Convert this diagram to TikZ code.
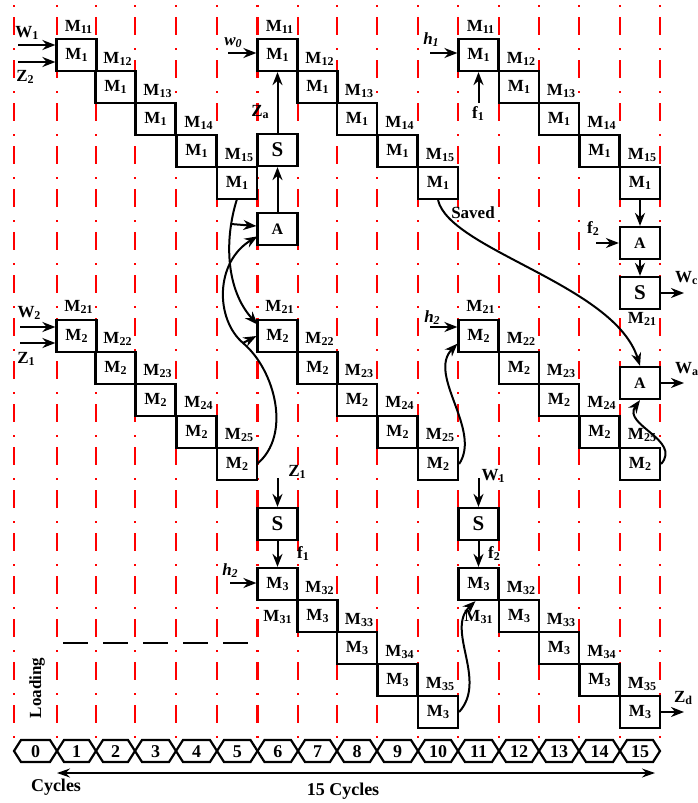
\documentclass[tikz,border=0pt]{standalone}
\usepackage{fontspec}
\setmainfont{Liberation Serif}
\usetikzlibrary{arrows.meta,calc}
\newcommand\sbs[1]{\raisebox{-2pt}{\fontsize{12}{12}\selectfont #1}}
\begin{document}
\begin{tikzpicture}[x=1pt,y=-1pt,
  redline/.style={draw=red, line width=2.4pt, dash pattern=on 2pt off 10pt on 18pt off 13pt},
  bx/.style={draw, line width=2.2pt, fill=white, minimum width=40pt, minimum height=32pt, inner sep=0pt, font=\fontsize{17}{17}\selectfont\bfseries},
  sbx/.style={bx, font=\fontsize{21}{21}\selectfont\bfseries},
  abx/.style={bx, font=\fontsize{16}{16}\selectfont\bfseries},
  lbl/.style={inner sep=0pt, font=\fontsize{17}{17}\selectfont\bfseries},
  arr/.style={line width=2pt, -{Stealth[length=13pt,width=10pt]}},
  curv/.style={line width=2pt, -{Stealth[length=13pt,width=10pt]}},
  hex/.style={draw, line width=2.2pt},
  num/.style={inner sep=0pt, font=\fontsize{18}{18}\selectfont\bfseries},
  blkdash/.style={line width=2pt, dash pattern=on 25pt off 15pt}
]
\useasboundingbox (0,0) rectangle (697,803);
\fill[white] (0,0) rectangle (697,803);

% red cycle lines
\foreach \x in {14,57,96,135,176,217,257.5,298,337,377,418,458,499,539,579,620,660}
  \draw[redline] (\x,5) -- (\x,738);

% cycle hexagons
\foreach \i/\a/\b in {0/14/57,1/57/96,2/96/135,3/135/176,4/176/217,5/217/257.5,6/257.5/298,7/298/337,8/337/377,9/377/418,10/418/458,11/458/499,12/499/539,13/539/579,14/579/620,15/620/660} {
  \draw[hex] (\a,751) -- (\a+7,740) -- (\b-7,740) -- (\b,751) -- (\b-7,762) -- (\a+7,762) -- cycle;
  \node[num] (cy\i) at ({(\a+\b)/2},752) {\i};
}

% curves (drawn before boxes)
\coordinate (br1) at (231,224);
\coordinate (k2) at (243,343);
\draw[curv] (237,199) .. controls (224,240) and (226,290) .. (257.5,324.5);
\draw[curv] (257,464) .. controls (292,435) and (275,370) .. (k2) .. controls (215,319) and (215,262) .. (257.5,236.3);

% ---- Row 1 ----
\foreach \k/\x in {1/76.5,2/115.5,3/155.5,4/196.5,5/237} {
  \pgfmathsetmacro\yy{55+32*(\k-1)}
  \node[bx] (r1a\k) at (\x,\yy) {M\sbs{1}};
  \node[lbl,anchor=base] (l1a\k) at (\x+2,\yy-24) {M\sbs{1\k}};
}
\foreach \k/\x in {1/277.5,2/317.5,3/357,4/397.5,5/438} {
  \pgfmathsetmacro\yy{55+32*(\k-1)}
  \node[bx] (r1b\k) at (\x,\yy) {M\sbs{1}};
  \node[lbl,anchor=base] (l1b\k) at (\x+2,\yy-24) {M\sbs{1\k}};
}
\foreach \k/\x in {1/478.5,2/519,3/559,4/599.5,5/640} {
  \pgfmathsetmacro\yy{55+32*(\k-1)}
  \node[bx] (r1c\k) at (\x,\yy) {M\sbs{1}};
  \node[lbl,anchor=base] (l1c\k) at (\x+2,\yy-24) {M\sbs{1\k}};
}
% ---- Row 2 ----
\foreach \k/\x in {1/76.5,2/115.5,3/155.5,4/196.5,5/237} {
  \pgfmathsetmacro\yy{336+32*(\k-1)}
  \node[bx] (r2a\k) at (\x,\yy) {M\sbs{2}};
  \node[lbl,anchor=base] (l2a\k) at (\x+2,\yy-25) {M\sbs{2\k}};
}
\foreach \k/\x in {1/277.5,2/317.5,3/357,4/397.5,5/438} {
  \pgfmathsetmacro\yy{336+32*(\k-1)}
  \node[bx] (r2b\k) at (\x,\yy) {M\sbs{2}};
  \node[lbl,anchor=base] (l2b\k) at (\x+2,\yy-25) {M\sbs{2\k}};
}
\foreach \k/\x in {1/478.5,2/519,3/559,4/599.5,5/640} {
  \pgfmathsetmacro\yy{336+32*(\k-1)}
  \node[bx] (r2c\k) at (\x,\yy) {M\sbs{2}};
  \node[lbl,anchor=base] (l2c\k) at (\x+2,\yy-25) {M\sbs{2\k}};
}
% ---- Row 3 ----
\foreach \k/\x in {1/277.5,2/317.5,3/357,4/397.5,5/438} {
  \pgfmathsetmacro\yy{584+32*(\k-1)}
  \node[bx] (r3b\k) at (\x,\yy) {M\sbs{3}};
  \ifnum\k=1
    \node[lbl,anchor=base] (l3b\k) at (\x,\yy+37) {M\sbs{31}};
  \else
    \node[lbl,anchor=base] (l3b\k) at (\x+2,\yy-24) {M\sbs{3\k}};
  \fi
}
\foreach \k/\x in {1/478.5,2/519,3/559,4/599.5,5/640} {
  \pgfmathsetmacro\yy{584+32*(\k-1)}
  \node[bx] (r3c\k) at (\x,\yy) {M\sbs{3}};
  \ifnum\k=1
    \node[lbl,anchor=base] (l3c\k) at (\x,\yy+37) {M\sbs{31}};
  \else
    \node[lbl,anchor=base] (l3c\k) at (\x+2,\yy-24) {M\sbs{3\k}};
  \fi
}

% A and S units
\node[abx] (aA) at (277.5,229) {A};
\node[sbx] (sA) at (277.5,150) {S};
\node[abx] (aB) at (640,243) {A};
\node[sbx] (sB) at (640,293) {S};
\node[abx] (aC) at (640,383) {A};
\node[sbx] (sC) at (277.5,524) {S};
\node[sbx] (sD) at (478.5,524) {S};

% branches of the crossing curves
\draw[arr] (br1) -- (aA.172);
\draw[arr] (k2) -- (r2b1.west);

% other curves
\draw[curv] (r1b5.south) .. controls (450,250) and (615,285) .. (aC.north);
\draw[curv] (r2b5.east) .. controls (482,430) and (427,375) .. (r2c1.200);
\draw[curv] (r2c5.east) .. controls (682,440) and (622,425) .. (aC.south);
\draw[curv] (r3b5.east) .. controls (488,680) and (445,630) .. (r3c1.260);

% straight arrows in units
\draw[arr] (aA.north) -- (sA.south);
\draw[arr] (sA.north) -- (r1b1.south);
\draw[arr] (r1c5.south) -- (aB.north);
\draw[arr] (aB.south) -- (sB.north);
\draw[arr] (sC.south) -- (r3b1.north);
\draw[arr] (sD.south) -- (r3c1.north);

% inputs
\coordinate (iW1) at (18,45);
\coordinate (iZ2) at (18,62);
\draw[arr] (iW1) -- (r1a1.west |- iW1);
\draw[arr] (iZ2) -- (r1a1.west |- iZ2);
\node[lbl] (tW1) at (27,33) {W\sbs{1}};
\node[lbl] (tZ2) at (25,77) {Z\sbs{2}};

\coordinate (iW2) at (20,327);
\coordinate (iZ1) at (20,343);
\draw[arr] (iW2) -- (r2a1.west |- iW2);
\draw[arr] (iZ1) -- (r2a1.west |- iZ1);
\node[lbl] (tW2) at (29,313) {W\sbs{2}};
\node[lbl] (tZ1) at (26,359) {Z\sbs{1}};

\coordinate (iw0) at (228,53);
\draw[arr] (iw0) -- (r1b1.west |- iw0);
\node[lbl] (tw0) at (233,43) {\itshape w\sbs{0}};
\node[lbl] (tZa) at (260,112) {Z\sbs{a}};

\coordinate (ih1) at (430,53);
\draw[arr] (ih1) -- (r1c1.west |- ih1);
\node[lbl] (th1) at (431,40) {\itshape h\sbs{1}};
\coordinate (if1) at (478.5,103);
\draw[arr] (if1) -- (r1c1.south);
\node[lbl] (tf1) at (478,114) {f\sbs{1}};

\coordinate (if2) at (596,243);
\draw[arr] (if2) -- (aB.west);
\node[lbl] (tf2) at (593,229) {f\sbs{2}};
\coordinate (oWc) at (684,293);
\draw[arr] (sB.east) -- (oWc);
\node[lbl,anchor=base west] (tWc) at (675,282) {W\sbs{c}};
\node[lbl,anchor=base] (tM21) at (642,323) {M\sbs{21}};
\coordinate (oWa) at (684,383);
\draw[arr] (aC.east) -- (oWa);
\node[lbl,anchor=base west] (tWa) at (675,373) {W\sbs{a}};

\coordinate (ih2) at (430,327);
\draw[arr] (ih2) -- (r2c1.west |- ih2);
\node[lbl] (th2) at (432,318) {\itshape h\sbs{2}};

\coordinate (iZ1b) at (277.5,478);
\draw[arr] (iZ1b) -- (sC.north);
\node[lbl] (tZ1b) at (297,472) {Z\sbs{1}};
\node[lbl] (tf1b) at (303,554) {f\sbs{1}};
\coordinate (ih2b) at (230,583);
\draw[arr] (ih2b) -- (r3b1.west |- ih2b);
\node[lbl] (th2b) at (230,571) {\itshape h\sbs{2}};

\coordinate (iW1b) at (478.5,478);
\draw[arr] (iW1b) -- (sD.north);
\node[lbl] (tW1b) at (493,476) {W\sbs{1}};
\node[lbl] (tf2b) at (494,554) {f\sbs{2}};

\coordinate (oZd) at (684,712);
\draw[arr] (r3c5.east) -- (oZd);
\node[lbl] (tZd) at (683,698) {Z\sbs{d}};

\node[lbl] (tsaved) at (473,213) {Saved};

% black dashed line
\coordinate (d1) at (63,643);
\coordinate (d2) at (248,643);
\draw[blkdash] (d1) -- (d2);

% Loading
\node[lbl,rotate=90] (tload) at (37,688) {Loading};

% bottom arrow and labels
\coordinate (bl) at (57,773);
\coordinate (br) at (655,773);
\draw[line width=1.4pt, {Stealth[length=13pt,width=9pt]}-{Stealth[length=13pt,width=9pt]}] (bl) -- (br);
\node[inner sep=0pt, font=\fontsize{18}{18}\selectfont\bfseries] (tcyc) at (56,787) {Cycles};
\node[inner sep=0pt, font=\fontsize{18}{18}\selectfont\bfseries] (t15) at (343,791) {15 Cycles};
\end{tikzpicture}
\end{document}
